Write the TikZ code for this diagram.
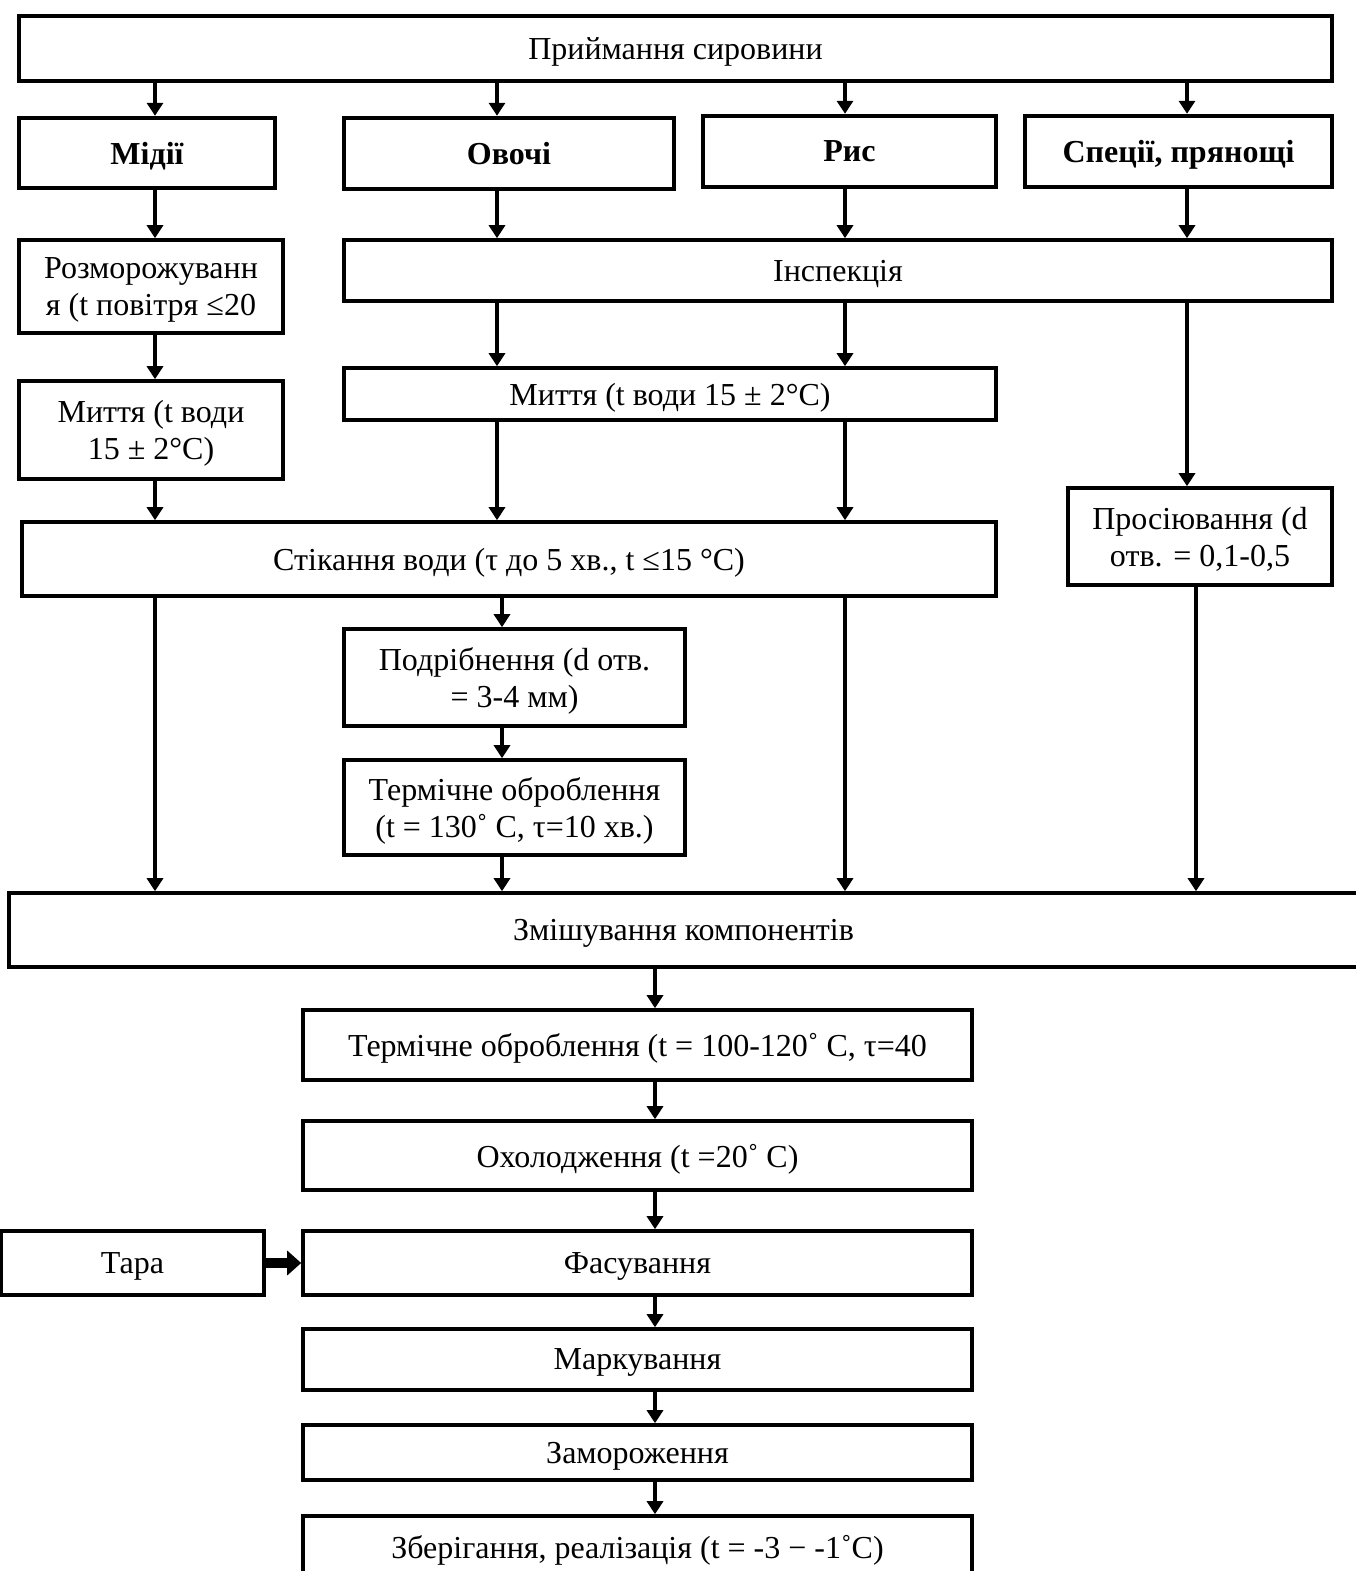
\documentclass[tikz,border=0pt]{standalone}
\usepackage{fontspec}
\setmainfont{Liberation Serif}
\usetikzlibrary{arrows.meta,positioning,calc}

\tikzset{
  flowchart/.style={
    x=1pt, y=-1pt,
    font=\fontsize{32}{37}\selectfont,
    line join=miter,
  },
  stepbox/.style={
    draw, line width=3.6pt, fill=white,
    inner sep=0pt, align=center, text=black,
    text depth=0pt,
  },
  headbox/.style={stepbox, line width=4.4pt, font=\fontsize{32}{37}\selectfont\bfseries},
  flow/.style={-{Triangle[length=13pt, width=16pt]}, line width=4pt},
  bigflow/.style={-{Triangle[length=14pt, width=24pt]}, line width=10pt},
}

\newcommand{\procbox}[7]{% style, name, left, top, right, bottom, text
  \node[#1, minimum width={#5-#3}, minimum height={#6-#4}]
    (#2) at ({(#3+#5)/2},{(#4+#6)/2}) {#7};
}

\begin{document}
\begin{tikzpicture}[flowchart]
  \useasboundingbox (0,0) rectangle (1356,1571);

  % columns of the connectors
  \coordinate (xA) at (155,0);
  \coordinate (xB) at (497,0);
  \coordinate (xB2) at (502,0);
  \coordinate (xC) at (845,0);
  \coordinate (xD) at (1187,0);
  \coordinate (xD2) at (1196,0);
  \coordinate (xE) at (655,0);

  \procbox{stepbox}{priym}{19}{16}{1332}{81}{Приймання сировини}

  \procbox{headbox}{midii}{19}{118}{275}{188}{Мідії}
  \procbox{headbox}{ovochi}{344}{118}{674}{189}{Овочі}
  \procbox{headbox}{rys}{703}{116}{996}{187}{Рис}
  \procbox{headbox}{spec}{1025}{116}{1332}{187}{Спеції, прянощі}

  \procbox{stepbox}{rozmor}{19}{240}{283}{333}{Розморожуванн\\я (t повітря ≤20}
  \procbox{stepbox}{inspek}{344}{240}{1332}{301}{Інспекція}

  \procbox{stepbox}{mytL}{19}{381}{283}{479}{Миття (t води\\15 ± 2°C)}
  \procbox{stepbox}{mytM}{344}{368}{996}{420}{Миття (t води 15 ± 2°C)}

  \procbox{stepbox}{stik}{22}{522}{996}{596}{Стікання води (τ до 5 хв., t ≤15 °C)}
  \procbox{stepbox}{prosi}{1068}{488}{1332}{585}{Просіювання (d\\отв. = 0,1-0,5}

  \procbox{stepbox}{podrib}{344}{629}{685}{726}{Подрібнення (d отв.\\= 3-4 мм)}
  \procbox{stepbox}{termA}{344}{760}{685}{855}{Термічне оброблення\\(t = 130˚ C, τ=10 хв.)}

  \procbox{stepbox}{zmish}{9}{893}{1358}{967}{Змішування компонентів}

  \procbox{stepbox}{termB}{303}{1010}{972}{1080}{Термічне оброблення (t = 100-120˚ C, τ=40}
  \procbox{stepbox}{okhol}{303}{1121}{972}{1190}{Охолодження (t =20˚ C)}
  \procbox{stepbox}{tara}{1}{1231}{264}{1295}{Тара}
  \procbox{stepbox}{fasuv}{303}{1231}{972}{1295}{Фасування}
  \procbox{stepbox}{mark}{303}{1329}{972}{1390}{Маркування}
  \procbox{stepbox}{zamor}{303}{1425}{972}{1480}{Замороження}
  \procbox{stepbox}{zberig}{303}{1516}{972}{1578}{Зберігання, реалізація (t = -3 − -1˚C)}

  % raw materials
  \foreach \n/\c in {midii/xA, ovochi/xB, rys/xC, spec/xD}
    \draw[flow] (priym.south -| \c) -- (\n.north -| \c);

  % mussels
  \draw[flow] (midii.south -| xA) -- (rozmor.north -| xA);
  \draw[flow] (rozmor.south -| xA) -- (mytL.north -| xA);
  \draw[flow] (mytL.south -| xA) -- (stik.north -| xA);
  \draw[flow] (stik.south -| xA) -- (zmish.north -| xA);

  % vegetables, rice, spices
  \foreach \n/\c in {ovochi/xB, rys/xC, spec/xD}
    \draw[flow] (\n.south -| \c) -- (inspek.north -| \c);
  \draw[flow] (inspek.south -| xB) -- (mytM.north -| xB);
  \draw[flow] (inspek.south -| xC) -- (mytM.north -| xC);
  \draw[flow] (inspek.south -| xD) -- (prosi.north -| xD);
  \draw[flow] (mytM.south -| xB) -- (stik.north -| xB);
  \draw[flow] (mytM.south -| xC) -- (stik.north -| xC);
  \draw[flow] (stik.south -| xB2) -- (podrib.north -| xB2);
  \draw[flow] (podrib.south -| xB2) -- (termA.north -| xB2);
  \draw[flow] (termA.south -| xB2) -- (zmish.north -| xB2);
  \draw[flow] (stik.south -| xC) -- (zmish.north -| xC);
  \draw[flow] (prosi.south -| xD2) -- (zmish.north -| xD2);

  % common line
  \draw[flow] (zmish.south -| xE) -- (termB.north -| xE);
  \draw[flow] (termB.south -| xE) -- (okhol.north -| xE);
  \draw[flow] (okhol.south -| xE) -- (fasuv.north -| xE);
  \draw[flow] (fasuv.south -| xE) -- (mark.north -| xE);
  \draw[flow] (mark.south -| xE) -- (zamor.north -| xE);
  \draw[flow] (zamor.south -| xE) -- (zberig.north -| xE);
  \draw[bigflow] (tara) -- (fasuv);
\end{tikzpicture}
\end{document}
